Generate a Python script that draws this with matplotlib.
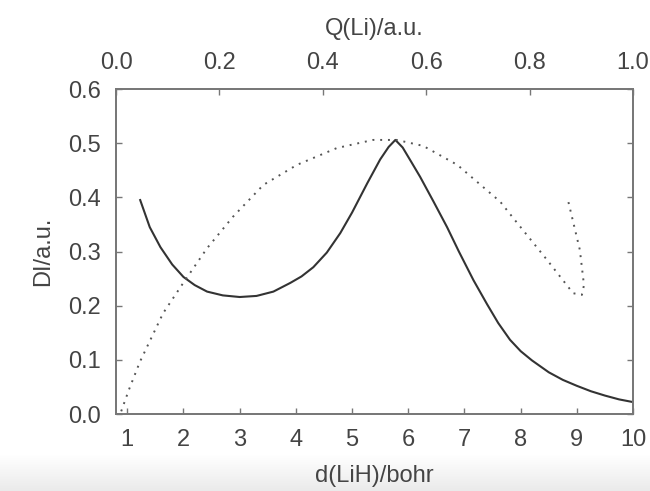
import numpy as np
import matplotlib.pyplot as plt
import matplotlib.ticker as ticker

# DI vs d(LiH) (solid, bottom axis)
d_lih = [1.23, 1.4, 1.59, 1.8, 2.0, 2.2, 2.42, 2.7, 3.0, 3.3, 3.6, 3.9, 4.1, 4.31, 4.55,
         4.79, 5.0, 5.27, 5.5, 5.65, 5.77, 5.9, 6.05, 6.21, 6.45, 6.69, 6.9, 7.16, 7.4,
         7.6, 7.81, 8.0, 8.2, 8.5, 8.75, 9.0, 9.25, 9.5, 9.75, 10.0]
di_d = [0.395, 0.345, 0.308, 0.276, 0.253, 0.238, 0.226, 0.219, 0.216, 0.218, 0.226,
        0.242, 0.254, 0.271, 0.298, 0.334, 0.372, 0.426, 0.470, 0.493, 0.506, 0.492,
        0.466, 0.438, 0.392, 0.345, 0.300, 0.247, 0.203, 0.168, 0.137, 0.116, 0.099,
        0.077, 0.063, 0.052, 0.042, 0.034, 0.027, 0.022]

# DI vs Q(Li) (dotted, top axis)
q_li = [0.01, 0.025, 0.046, 0.091, 0.13, 0.176, 0.226, 0.285, 0.35, 0.427, 0.497, 0.543,
        0.594, 0.66, 0.71, 0.743, 0.768, 0.834, 0.884, 0.901, 0.905, 0.897, 0.874]
di_q = [0.005, 0.045, 0.096, 0.186, 0.242, 0.306, 0.364, 0.423, 0.46, 0.491, 0.506, 0.506,
        0.495, 0.46, 0.419, 0.392, 0.362, 0.284, 0.223, 0.22, 0.238, 0.303, 0.395]

plt.rcParams.update({
    'font.family': 'Liberation Sans',
    'font.size': 17,
    'text.color': '#444444',
    'axes.labelcolor': '#444444',
    'xtick.color': '#777777',
    'ytick.color': '#777777',
    'xtick.labelcolor': '#444444',
    'ytick.labelcolor': '#444444',
})

fig = plt.figure(figsize=(6.5, 4.91), dpi=100)

# light grey band at the bottom, fading in from white
bg = fig.add_axes([0, 0, 1, 0.075], zorder=-10)
shade = np.linspace(1.0, 0.92, 30)
band = np.repeat(shade[:, None, None], 3, axis=2)
bg.imshow(band, aspect='auto', extent=[0, 1, 0, 1])
bg.axis('off')

ax = fig.add_axes([0.1785, 0.1568, 0.7955, 0.6619])
ax.plot(d_lih, di_d, color='#333333', lw=1.5, solid_joinstyle='round')
ax.set_xlim(0.8, 10)
ax.set_ylim(0, 0.6)
ax.xaxis.set_major_locator(ticker.MultipleLocator(1))
ax.yaxis.set_major_locator(ticker.MultipleLocator(0.1))
ax.xaxis.set_major_formatter(ticker.FormatStrFormatter('%d'))
ax.yaxis.set_major_formatter(ticker.FormatStrFormatter('%.1f'))
ax.set_xlabel('d(LiH)/bohr', labelpad=10)
ax.set_ylabel('DI/a.u.', labelpad=10)
ax.tick_params(direction='in', length=4, width=1, pad=11, right=True)

ax2 = ax.twiny()
ax2.plot(q_li, di_q, color='#555555', lw=1.4, ls=(0, (1, 3)))
ax2.set_xlim(0, 1)
ax2.xaxis.set_major_locator(ticker.MultipleLocator(0.2))
ax2.xaxis.set_major_formatter(ticker.FormatStrFormatter('%.1f'))
ax2.set_xlabel('Q(Li)/a.u.', labelpad=12)
ax2.tick_params(direction='in', length=4, width=1, pad=11)

for a in (ax, ax2):
    for sp in a.spines.values():
        sp.set_color('#777777')
        sp.set_linewidth(1.3)

fig.savefig('out.png', dpi=100)
